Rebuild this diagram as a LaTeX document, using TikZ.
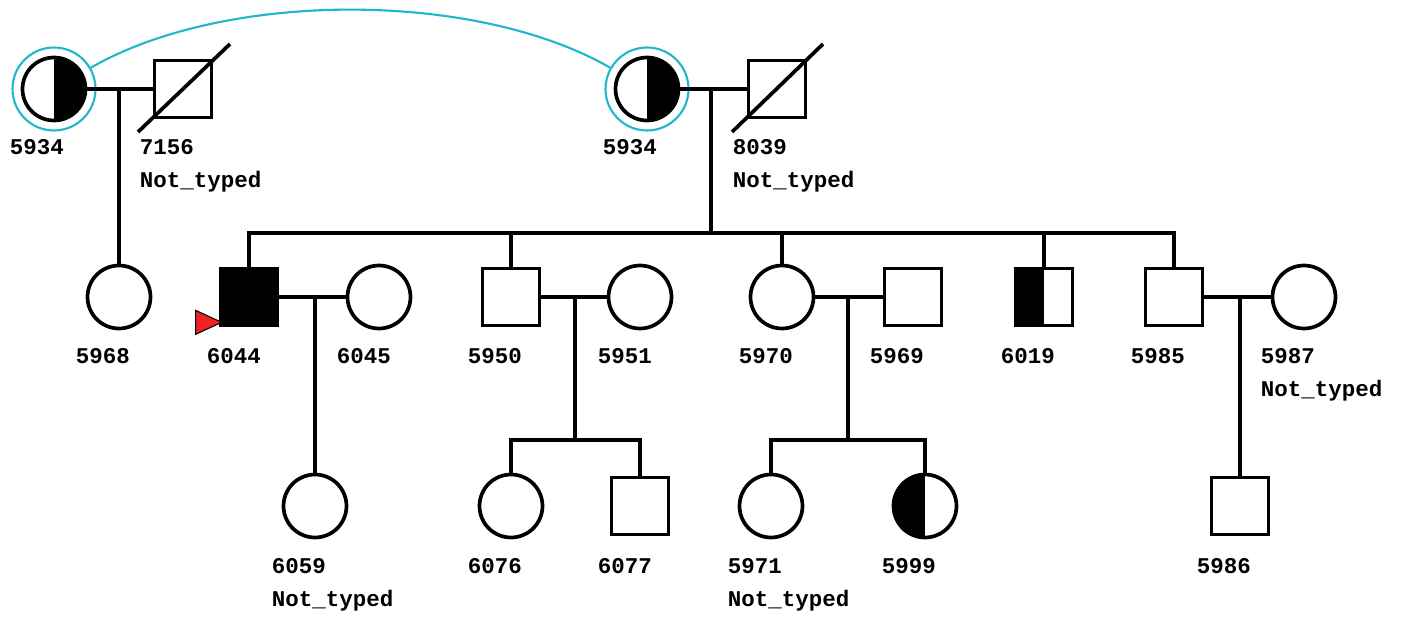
\documentclass[tikz,border=0pt]{standalone}
\usepackage{fontspec}
\setmonofont{Liberation Mono}
\definecolor{twinteal}{HTML}{1FB7C9}
\definecolor{probred}{HTML}{EE2222}
\usetikzlibrary{calc, positioning}

\begin{document}
\begin{tikzpicture}[x=0.02cm, y=-0.02cm, line width=2.1pt,
  female/.style={draw, circle, fill=white, minimum size=1.26cm, inner sep=0pt},
  male/.style={draw, rectangle, fill=white, minimum size=1.14cm, inner sep=0pt},
  halfright/.style={path picture={\fill[black] (path picture bounding box.south) rectangle (path picture bounding box.north east);}},
  halfleft/.style={path picture={\fill[black] (path picture bounding box.south west) rectangle (path picture bounding box.north);}},
  ring/.style={draw=twinteal, circle, line width=1.2pt, minimum size=1.66cm, inner sep=0pt},
  idlabel/.style={font=\fontsize{12.8}{15}\selectfont\ttfamily\bfseries, anchor=base west, inner sep=0pt},
]
\useasboundingbox (0,0) rectangle (1404,618);

% generation I
\node[ring] (r5934a) at (54,89) {};
\node[ring] (r5934b) at (647,89) {};
\draw[twinteal, line width=1.2pt] (r5934a.30) .. controls +(30:3.1cm) and +(150:3.1cm) .. (r5934b.150);
\node[female, halfright] (f5934a) at (54,89) {};
\node[male] (m7156) at (183,89) {};
\node[female, halfright] (f5934b) at (647,89) {};
\node[male] (m8039) at (777,89) {};
\draw ($(m7156)+(-45,43)$) -- ($(m7156)+(47,-45)$);
\draw ($(m8039)+(-45,43)$) -- ($(m8039)+(46,-45)$);

% generation II
\node[female] (f5968) at (119,297) {};
\node[male, fill=black] (m6044) at (249,297) {};
\node[female] (f6045) at (379,297) {};
\node[male] (m5950) at (511,297) {};
\node[female] (f5951) at (640,297) {};
\node[female] (f5970) at (782,297) {};
\node[male] (m5969) at (913,297) {};
\node[male, halfleft] (m6019) at (1044,297) {};
\node[male] (m5985) at (1174,297) {};
\node[female] (f5987) at (1304,297) {};
\fill[probred, draw=black, line width=0.6pt] ($(m6044.south west)+(3,-5)$) -- ++(-26,-12) -- ++(0,24) -- cycle;

% generation III
\node[female] (f6059) at (315,506) {};
\node[female] (f6076) at (511,506) {};
\node[male] (m6077) at (640,506) {};
\node[female] (f5971) at (771,506) {};
\node[female, halfleft] (f5999) at (925,506) {};
\node[male] (m5986) at (1240,506) {};

% couples and offspring
\coordinate (k7156) at (119,89);
\coordinate (k8039) at (711,89);
\coordinate (s8039) at (711,233);
\coordinate (k6044) at (315,297);
\coordinate (k5950) at (575,297);
\coordinate (s5950) at (575,440);
\coordinate (k5970) at (848,297);
\coordinate (s5970) at (848,440);
\coordinate (k5985) at (1240,297);

\draw (f5934a) -- (m7156);
\draw (k7156) -- (f5968);
\draw (f5934b) -- (m8039);
\draw (k8039) -- (s8039);
\draw (m6044.north) |- (s8039) -| (m5985.north);
\draw (m5950.north) -- (m5950.north |- s8039);
\draw (f5970.north) -- (f5970.north |- s8039);
\draw (m6019.north) -- (m6019.north |- s8039);

\draw (m6044) -- (f6045);
\draw (k6044) -- (f6059);
\draw (m5950) -- (f5951);
\draw (k5950) -- (s5950);
\draw (f6076.north) |- (s5950) -| (m6077.north);
\draw (f5970) -- (m5969);
\draw (k5970) -- (s5970);
\draw (f5971.north) |- (s5970) -| (f5999.north);
\draw (m5985) -- (f5987);
\draw (k5985) -- (m5986);

% labels
\node[idlabel] (l5934a) at (8,155) {5934};
\node[idlabel] (l7156) at (138,155) {7156};
\node[idlabel] (n7156) at (138,188) {Not\_typed};
\node[idlabel] (l5934b) at (601,155) {5934};
\node[idlabel] (l8039) at (731,155) {8039};
\node[idlabel] (n8039) at (731,188) {Not\_typed};
\node[idlabel] (l5968) at (74,364) {5968};
\node[idlabel] (l6044) at (205,364) {6044};
\node[idlabel] (l6045) at (335,364) {6045};
\node[idlabel] (l5950) at (466,364) {5950};
\node[idlabel] (l5951) at (596,364) {5951};
\node[idlabel] (l5970) at (737,364) {5970};
\node[idlabel] (l5969) at (868,364) {5969};
\node[idlabel] (l6019) at (999,364) {6019};
\node[idlabel] (l5985) at (1129,364) {5985};
\node[idlabel] (l5987) at (1259,364) {5987};
\node[idlabel] (n5987) at (1259,397) {Not\_typed};
\node[idlabel] (l6059) at (270,573) {6059};
\node[idlabel] (n6059) at (270,606) {Not\_typed};
\node[idlabel] (l6076) at (466,573) {6076};
\node[idlabel] (l6077) at (596,573) {6077};
\node[idlabel] (l5971) at (726,573) {5971};
\node[idlabel] (n5971) at (726,606) {Not\_typed};
\node[idlabel] (l5999) at (880,573) {5999};
\node[idlabel] (l5986) at (1195,573) {5986};
\end{tikzpicture}
\end{document}
